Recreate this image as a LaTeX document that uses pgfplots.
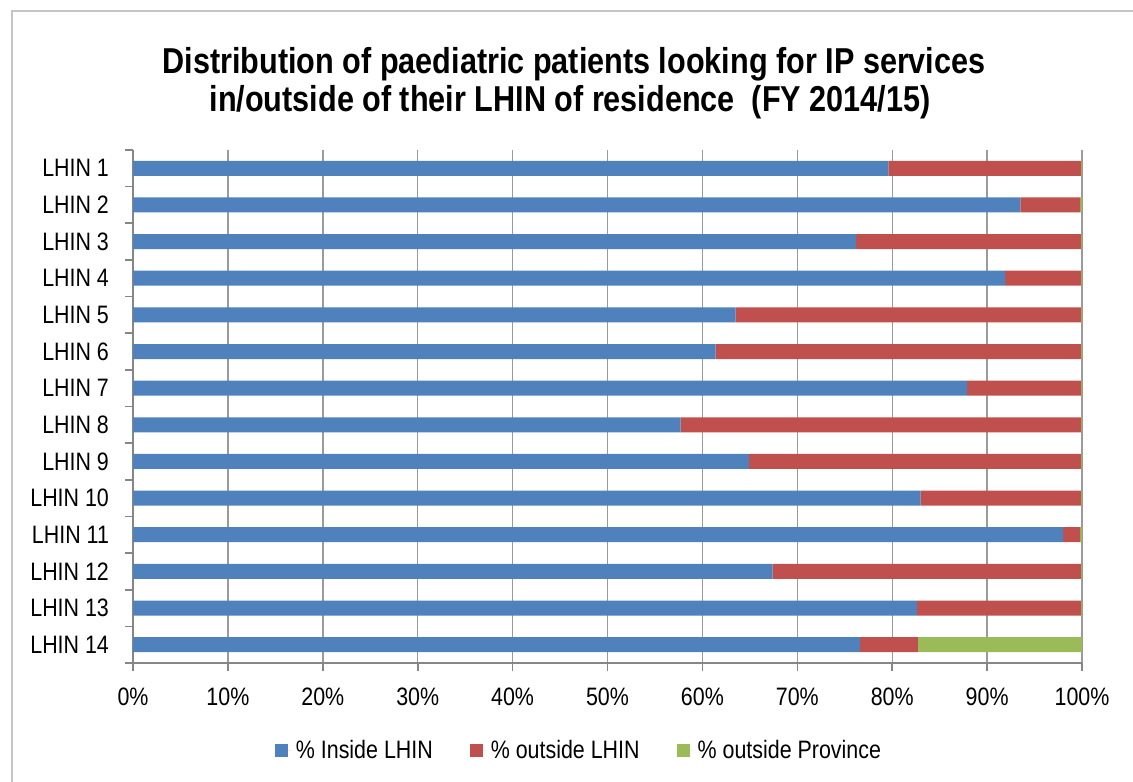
\documentclass[border=0pt]{standalone}
\usepackage{pgfplots}
\pgfplotsset{compat=1.18}
\usepackage{pgfplotstable}
\usepackage{fontspec}
\setmainfont{Liberation Sans}[FakeStretch=0.85]
\definecolor{cblue}{HTML}{4F81BD}
\definecolor{cred}{HTML}{C0504D}
\definecolor{cgreen}{HTML}{9BBB59}
\definecolor{gridgray}{HTML}{9A9A9A}
\definecolor{axgray}{HTML}{868686}

% pos: 14 = LHIN 1 (top) ... 1 = LHIN 14 (bottom)
\pgfplotstableread{
pos inside outl outp
14 79.6 20.3 0.1
13 93.5 6.3 0.2
12 76.2 23.7 0.1
11 91.9 8.0 0.1
10 63.5 36.4 0.1
9 61.4 38.5 0.1
8 87.9 12.0 0.1
7 57.7 42.2 0.1
6 64.9 35.0 0.1
5 83.0 16.9 0.1
4 98.0 1.8 0.2
3 67.4 32.5 0.1
2 82.6 17.3 0.1
1 76.6 6.1 17.3
}\datatable

\begin{document}
\begin{tikzpicture}
\useasboundingbox (0pt,0pt) rectangle (566.5pt,390.5pt);
\draw[gray!45, line width=0.8pt] (6pt,-2pt) -- (6pt,385pt) -- (570pt,385pt);
\node[font=\bfseries\fontsize{18}{21}\selectfont, anchor=base] at (287pt,353.5pt) {Distribution of paediatric patients looking for IP services};
\node[font=\bfseries\fontsize{18}{21}\selectfont, anchor=base] at (285pt,334.5pt) {in/outside of their LHIN of residence\ \ (FY 2014/15)};
\begin{axis}[
  at={(66.5pt,59pt)}, anchor=south west,
  scale only axis, width=474.5pt, height=256.5pt,
  xbar stacked, bar width=7.5pt,
  xmin=0, xmax=100, ymin=0.5, ymax=14.5,
  axis lines*=left,
  axis line style={axgray, line width=0.8pt},
  xtick={0,10,...,100},
  xticklabels={0\%,10\%,20\%,30\%,40\%,50\%,60\%,70\%,80\%,90\%,100\%},
  ytick={0.5,1.5,...,14.5},
  yticklabels={},
  extra y ticks={1,...,14},
  extra y tick labels={LHIN 14,LHIN 13,LHIN 12,LHIN 11,LHIN 10,LHIN 9,LHIN 8,LHIN 7,LHIN 6,LHIN 5,LHIN 4,LHIN 3,LHIN 2,LHIN 1},
  extra y tick style={major tick length=0pt, tick style={draw=none}},
  tick align=outside,
  major tick length=4pt,
  tick style={axgray, line width=0.8pt},
  xmajorgrids,
  grid style={gridgray, line width=0.7pt},
  tick label style={font=\fontsize{12.6}{14}\selectfont, text=black},
  xticklabel style={yshift=-5pt},
  yticklabel style={xshift=-8.5pt},
  legend style={at={(0.471,-0.1715)}, anchor=center, draw=none,
    font=\fontsize{12.6}{14}\selectfont, legend columns=3,
    /tikz/every even column/.append style={column sep=16.5pt}},
  legend image code/.code={\fill[#1] (0pt,-3.25pt) rectangle (6.5pt,3.25pt); \path (0pt,0pt) -- (8.5pt,0pt);},
]
\addplot[fill=cblue, draw=none] table[x=inside, y=pos] {\datatable};
\addplot[fill=cred, draw=none] table[x=outl, y=pos] {\datatable};
\addplot[fill=cgreen, draw=none] table[x=outp, y=pos] {\datatable};
\legend{\% Inside LHIN, \% outside LHIN, \% outside Province}
\end{axis}
\end{tikzpicture}
\end{document}
